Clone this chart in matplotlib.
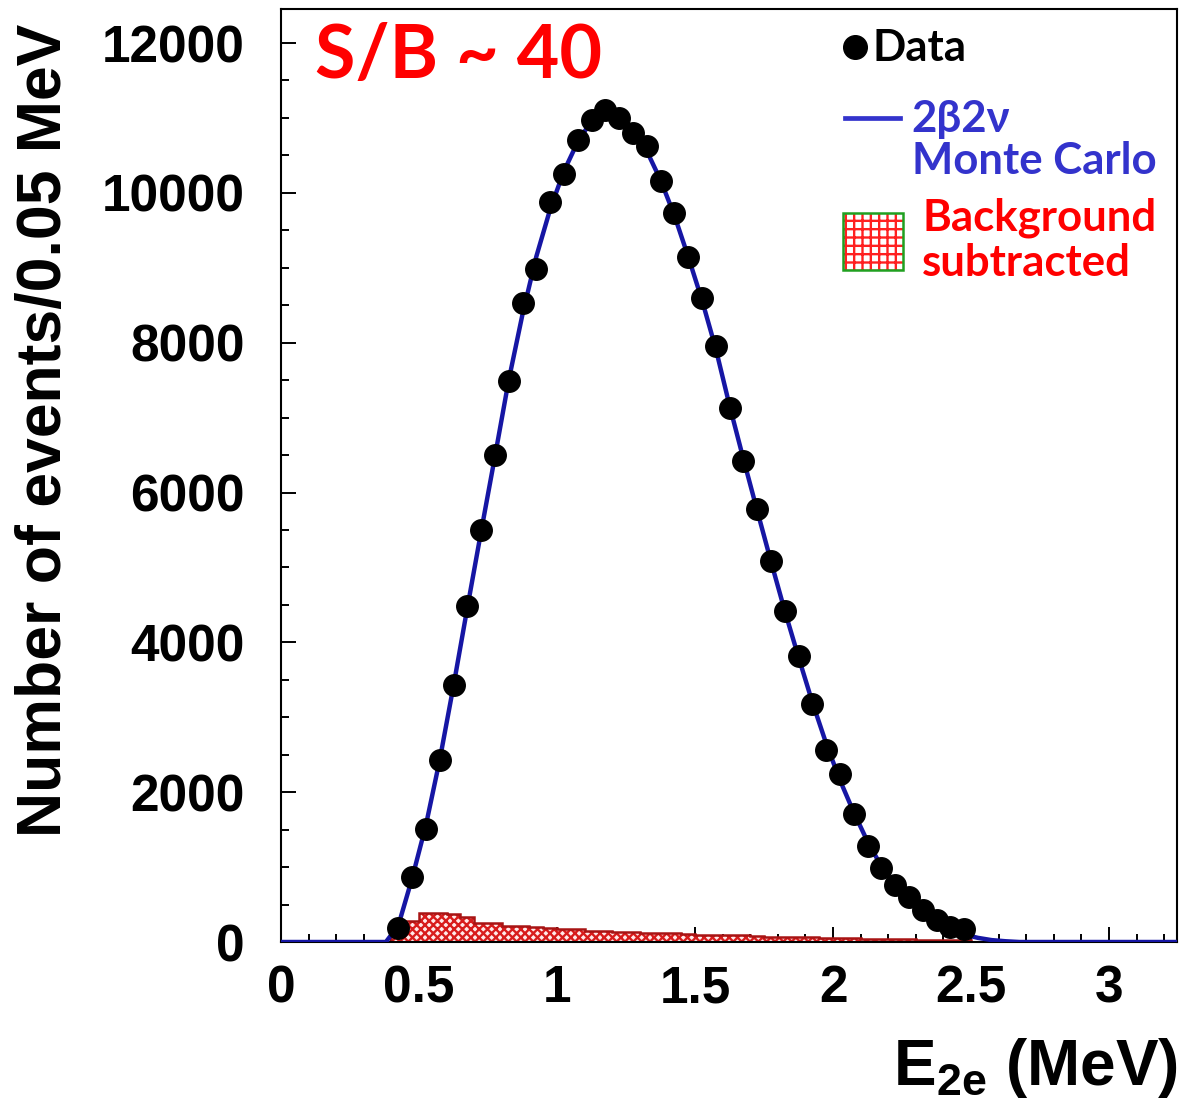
import numpy as np
import matplotlib
matplotlib.use("Agg")
import matplotlib.pyplot as plt
from matplotlib.ticker import MultipleLocator, FuncFormatter
from matplotlib.patches import Rectangle
from matplotlib.lines import Line2D

plt.rcParams['mathtext.fontset'] = 'custom'
plt.rcParams['mathtext.rm'] = 'Liberation Sans:bold'
plt.rcParams['mathtext.bf'] = 'Liberation Sans:bold'
plt.rcParams['mathtext.it'] = 'Liberation Sans:bold'
plt.rcParams['hatch.linewidth'] = 1.7

# ---- measured two-electron energy spectrum (counts per 0.05 MeV bin) ----
bin_width = 0.05
data_first_edge = 0.40
data_counts = [187, 870, 1512, 2435, 3425, 4482, 5499, 6503, 7493, 8536,
               8978, 9874, 10249, 10704, 10972, 11105, 10998, 10797, 10624, 10155,
               9727, 9139, 8590, 7961, 7132, 6422, 5780, 5084, 4415, 3813,
               3171, 2569, 2248, 1713, 1284, 990, 763, 602, 428, 294,
               200, 170]
data_energy = data_first_edge + bin_width * (np.arange(len(data_counts)) + 0.5)

# ---- 2b2v Monte Carlo prediction ----
mc_energy = [0.0, 0.38, 0.425, 0.475, 0.525, 0.575, 0.625, 0.675, 0.725, 0.775,
             0.825, 0.875, 0.925, 0.975, 1.025, 1.075, 1.125, 1.175, 1.225, 1.275,
             1.325, 1.375, 1.425, 1.475, 1.525, 1.575, 1.625, 1.675, 1.725, 1.775,
             1.825, 1.875, 1.925, 1.975, 2.025, 2.075, 2.125, 2.175, 2.225, 2.275,
             2.325, 2.375, 2.425, 2.475, 2.525, 2.575, 2.625, 2.675, 3.25]
mc_counts = [0, 0, 220, 850, 1560, 2430, 3420, 4460, 5480, 6480,
             7500, 8380, 9150, 9780, 10290, 10680, 10960, 11080, 11020, 10850,
             10560, 10170, 9700, 9150, 8570, 7920, 7160, 6450, 5760, 5080,
             4420, 3800, 3200, 2650, 2160, 1730, 1340, 1010, 750, 560,
             400, 270, 170, 100, 55, 25, 10, 0, 0]

# ---- subtracted background (counts per 0.05 MeV bin, 0.40 - 2.50 MeV) ----
bkg_counts = [250, 280, 390, 390, 380, 330, 260, 250, 215, 210,
              205, 185, 180, 175, 150, 145, 140, 135, 120, 118,
              115, 110, 95, 92, 90, 88, 85, 68, 66, 64,
              62, 60, 58, 55, 40, 38, 36, 34, 32, 30,
              25, 25]
bkg_edges = np.round(data_first_edge + bin_width * np.arange(len(bkg_counts) + 1), 3)

x_tick_labels = ['0', '0.5', '1', '1.5', '2', '2.5', '3']

W, H = 1180, 1102
fig = plt.figure(figsize=(W / 100, H / 100), dpi=100)
ax = fig.add_axes([281 / W, 1 - 942 / H, 896 / W, 933 / H])

# background histogram: red cross-hatch with a darker outline
ax.stairs(bkg_counts, bkg_edges, fill=True, facecolor='#ffeaea',
          edgecolor='#d81c1c', hatch='xxxx', linewidth=0, zorder=2)
ax.stairs(bkg_counts, bkg_edges, color='#a81414', linewidth=1.8, zorder=2.2)

ax.plot(mc_energy, mc_counts, color='#1616a4', linewidth=3.2, zorder=3,
        solid_joinstyle='round')
ax.plot(data_energy, data_counts, 'o', color='black', markersize=15.5, zorder=4)

ax.set_xlim(0, 3.246)
ax.set_ylim(0, 12454)

ax.xaxis.set_major_locator(MultipleLocator(0.5))
ax.xaxis.set_minor_locator(MultipleLocator(0.1))
ax.yaxis.set_major_locator(MultipleLocator(2000))
ax.yaxis.set_minor_locator(MultipleLocator(500))
ax.xaxis.set_major_formatter(FuncFormatter(lambda v, p: x_tick_labels[int(round(v / 0.5))]
                                           if 0 <= int(round(v / 0.5)) < len(x_tick_labels) else ''))
ax.yaxis.set_major_formatter(FuncFormatter(lambda v, p: f'{int(round(v))}'))

ax.tick_params(which='both', direction='in', top=False, right=False, width=1.4, color='black')
ax.tick_params(which='major', length=11)
ax.tick_params(which='minor', length=5.5)
ax.tick_params(axis='y', which='major', pad=26)
ax.tick_params(axis='x', which='major', pad=16)
for lab in ax.get_xticklabels() + ax.get_yticklabels():
    lab.set_fontfamily('Liberation Sans')
    lab.set_fontweight('bold')
    lab.set_fontsize(37)

for sp in ax.spines.values():
    sp.set_linewidth(1.5)
    sp.set_color('black')

# axis titles
fig.text(45 / W, 1 - 430 / H, 'Number of events/0.05 MeV', rotation=90,
         ha='center', va='center', family='Liberation Sans', weight='bold', fontsize=45)
fig.text(1178 / W, 1 - 1085 / H, r'E$_{\mathbf{2e}}$ (MeV)', ha='right', va='baseline',
         family='Liberation Sans', weight='bold', fontsize=46)

# annotation
lato = ['Lato', 'DejaVu Sans']
ax.text(0.038, 0.9486, 'S/B ~ 40', transform=ax.transAxes, color='#ff0000',
        family=lato, weight='bold', fontsize=53, ha='left', va='center')

# legend keys
def fx(px):
    return (px - 281) / 896

def fy(py):
    return (942 - py) / 933

leg_size = 31.5
ax.add_line(Line2D([fx(855)], [fy(47)], marker='o', color='black', markersize=17,
                   transform=ax.transAxes, zorder=6))
ax.text(fx(872), fy(48), 'Data', transform=ax.transAxes, color='black',
        family=lato, weight='bold', fontsize=leg_size, ha='left', va='center')

ax.add_line(Line2D([fx(845), fx(900)], [fy(118), fy(118)], color='#3333cc', linewidth=3.4,
                   transform=ax.transAxes, zorder=6))
ax.text(fx(911), fy(119), '2β2ν', transform=ax.transAxes, color='#3333cc',
        family=lato, weight='bold', fontsize=leg_size, ha='left', va='center')
ax.text(fx(912), fy(161), 'Monte Carlo', transform=ax.transAxes, color='#3333cc',
        family=lato, weight='bold', fontsize=leg_size, ha='left', va='center')

ax.add_patch(Rectangle((fx(843), fy(270)), 60 / 896, 57 / 933, transform=ax.transAxes,
                       facecolor='white', edgecolor='#ff2020', hatch='++', linewidth=0,
                       zorder=6))
ax.add_patch(Rectangle((fx(843), fy(270)), 60 / 896, 57 / 933, transform=ax.transAxes,
                       facecolor='none', edgecolor='#20a020', linewidth=1.8, zorder=7))
ax.text(fx(922), fy(218), 'Background', transform=ax.transAxes, color='#ff0000',
        family=lato, weight='bold', fontsize=leg_size, ha='left', va='center')
ax.text(fx(922), fy(263), 'subtracted', transform=ax.transAxes, color='#ff0000',
        family=lato, weight='bold', fontsize=leg_size, ha='left', va='center')

fig.savefig('out.png', dpi=100)
